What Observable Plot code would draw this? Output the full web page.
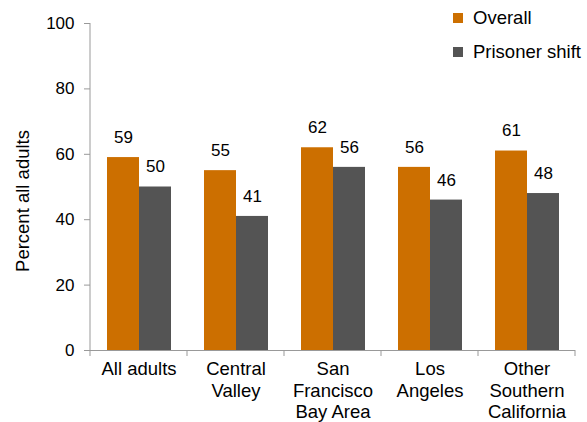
<!DOCTYPE html>
<html><head><meta charset="utf-8">
<script src="https://cdn.jsdelivr.net/npm/d3@7"></script>
<script src="https://cdn.jsdelivr.net/npm/@observablehq/plot@0.6"></script>
<style>
body{margin:0;background:#fff;font-family:"Liberation Sans",Arial,sans-serif;}
#wrap{position:relative;width:587px;height:422px;}
.lg{position:absolute;left:453px;font-size:18.5px;line-height:20px;height:20px;color:#000;display:flex;align-items:center;white-space:nowrap;}
.lg span.sw{display:inline-block;width:10px;height:10px;margin-right:10px;}
</style></head><body><div id="wrap"></div>
<script>
const categories = ["All adults","Central\nValley","San\nFrancisco\nBay Area","Los\nAngeles","Other\nSouthern\nCalifornia"];
const series = ["Overall","Prisoner shift"];
const overall = [59,55,62,56,61];
const prisonerShift = [50,41,56,46,48];
const yTicks = [0,20,40,60,80,100];
const yTitle = "Percent all adults";
const colors = ["#CC6F00","#545454"];

const data = categories.flatMap((c,i)=>[
  {category:c, series:series[0], value:overall[i]},
  {category:c, series:series[1], value:prisonerShift[i]}
]);

const chart = Plot.plot({
  width:587, height:422, marginLeft:88, marginRight:11, marginTop:23, marginBottom:72,
  style:{fontFamily:"'Liberation Sans', Arial, sans-serif", fontSize:"17px", color:"#000", background:"#fff", overflow:"visible"},
  fx:{domain:categories, padding:0, label:null},
  x:{domain:series, paddingInner:0, paddingOuter:0.5, axis:null},
  y:{domain:[0,100], label:null},
  color:{domain:series, range:colors},
  marks:[
    Plot.barY(data,{fx:"category", x:"series", y:"value", fill:"series"}),
    Plot.text(data,{fx:"category", x:"series", y:"value", text:d=>String(d.value), dy:-20, fontSize:17, fill:"#000"}),
    Plot.ruleY([0],{stroke:"#999"}),
    Plot.axisY({ticks:yTicks, tickSize:6, tickPadding:10, stroke:"#999", fill:"#000", fontSize:17, label:null}),
    Plot.text([yTitle],{frameAnchor:"left", textAnchor:"middle", rotate:-90, dx:-67, dy:14, fontSize:18.5, fill:"#000", facetAnchor:"left"}),
    Plot.axisFx({anchor:"bottom", tickSize:0, tickPadding:9, fontSize:18.5, lineHeight:1.17, label:null, fill:"#000"})
  ]
});

const wrap = document.getElementById("wrap");
wrap.appendChild(chart);

// axis line and category boundary ticks from Plot's scales
const fx = chart.scale("fx"), y = chart.scale("y");
const svg = d3.select(chart);
const y0 = y.apply(0), y100 = y.apply(100);
const left = fx.apply(categories[0]);
const bw = fx.bandwidth;
svg.append("line").attr("x1",left).attr("x2",left).attr("y1",y100).attr("y2",y0).attr("stroke","#999");
const bounds = categories.map(c=>fx.apply(c)).concat([fx.apply(categories[categories.length-1])+bw]);
bounds.forEach(b=>svg.append("line").attr("x1",b).attr("x2",b).attr("y1",y0).attr("y2",y0+6).attr("stroke","#999"));

// legend
series.forEach((s,i)=>{
  const d = document.createElement("div");
  d.className = "lg";
  d.style.top = (i===0 ? 7.5 : 41.5) + "px";
  d.innerHTML = `<span class="sw" style="background:${colors[i]}"></span>${s}`;
  wrap.appendChild(d);
});
</script></body></html>
